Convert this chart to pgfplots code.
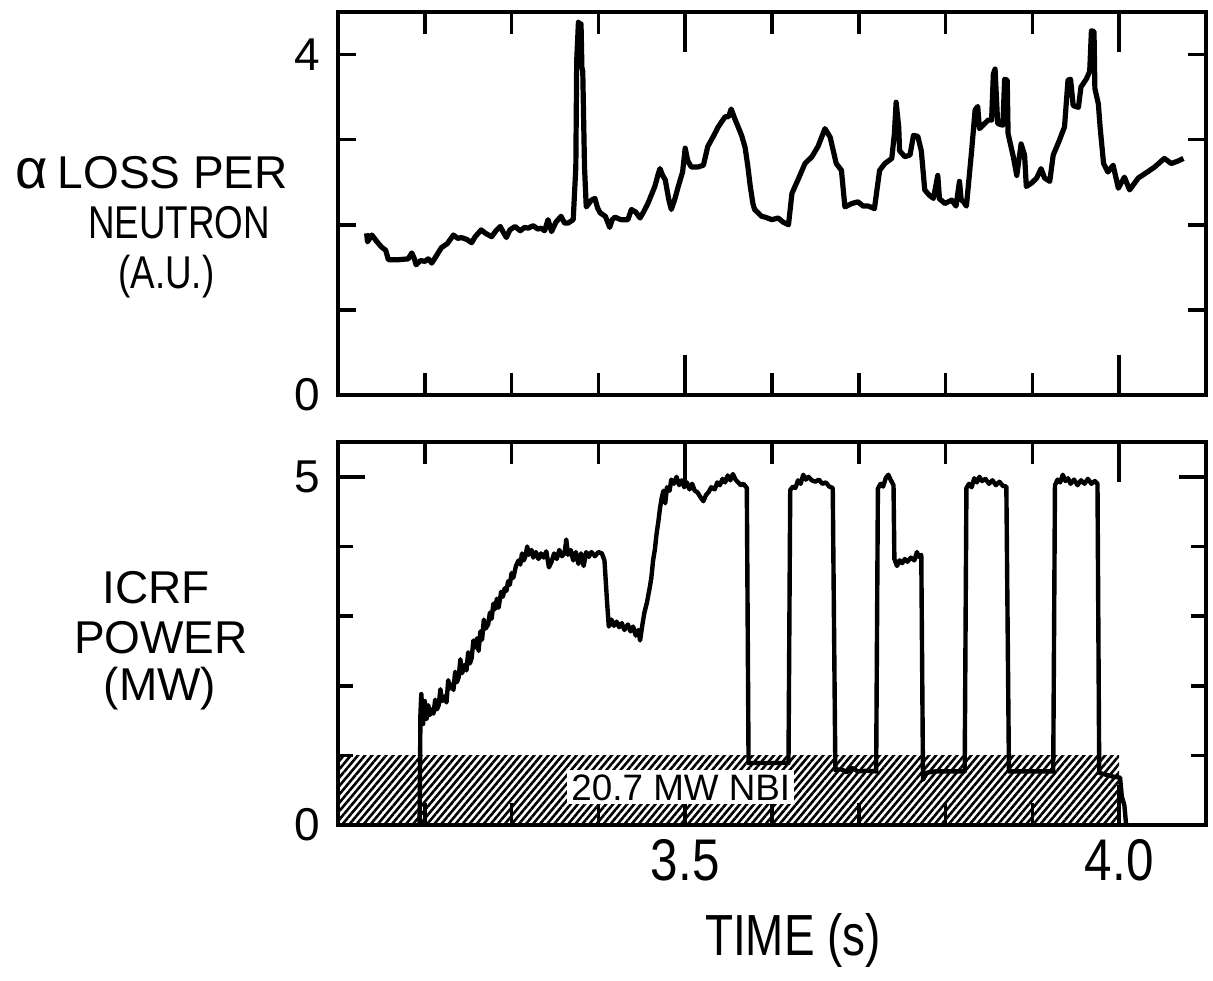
\documentclass[border=0pt]{standalone}
\usepackage{fontspec}
\setmainfont{Liberation Sans}
\newfontfamily\cond{Liberation Sans}[FakeStretch=0.80]
\newfontfamily\tlfont{Liberation Sans}[FakeStretch=0.84]
\newfontfamily\timefont{Liberation Sans}[FakeStretch=0.79]
\usepackage{pgfplots}
\pgfplotsset{compat=1.18}
\usetikzlibrary{calc,patterns.meta}

\pgfplotsset{
  panel/.style={
    scale only axis, width=217pt, height=95.75pt,
    xmin=3.1, xmax=4.1, ymin=0,
    axis line style={line width=1.1pt},
    every tick/.append style={line width=0.9pt, black},
    tick align=inside,
    xtick={3.5,4.0},
    minor xtick={3.2,3.3,3.4,3.6,3.7,3.8,3.9},
    major tick length=10pt,
    minor tick length=5.5pt,
    yticklabel style={font=\fontsize{11.5}{13}\selectfont, xshift=-1pt},
    xticklabel style={font=\tlfont\fontsize{14.7}{16}\selectfont},
  },
}

\begin{document}
\begin{tikzpicture}
\begin{axis}[panel, name=top, at={(0,0)}, anchor=north west,
  ymax=4.5, xticklabels={{},{}},
  ytick=\empty, extra y ticks={0,1,2,3,4}, extra y tick labels={0,{},{},{},4},
  extra y tick style={major tick length=4.5pt}]
\addplot[black, line width=1.3pt, line join=round] coordinates {
(3.133,1.90) (3.134,1.80) (3.139,1.88) (3.145,1.80) (3.150,1.74) (3.155,1.70)
(3.158,1.59) (3.170,1.59) (3.181,1.60) (3.185,1.67) (3.188,1.60) (3.190,1.53)
(3.195,1.58) (3.200,1.57) (3.204,1.60) (3.208,1.55) (3.213,1.63) (3.219,1.73)
(3.226,1.78) (3.233,1.88) (3.238,1.84) (3.242,1.85) (3.248,1.83) (3.254,1.79)
(3.258,1.86) (3.265,1.94) (3.270,1.90) (3.277,1.86) (3.282,1.93) (3.287,1.98)
(3.290,1.92) (3.294,1.85) (3.298,1.94) (3.304,1.98) (3.310,1.93) (3.315,1.97)
(3.319,1.96) (3.325,1.99) (3.330,1.95) (3.334,1.96) (3.338,1.93) (3.342,2.06)
(3.346,1.92) (3.351,2.03) (3.357,2.10) (3.361,2.02) (3.365,2.02) (3.371,2.06)
(3.374,2.68) (3.375,3.93) (3.377,4.38) (3.379,4.25) (3.380,4.36) (3.381,3.85)
(3.382,3.80) (3.384,2.68) (3.386,2.21) (3.392,2.29) (3.396,2.31) (3.399,2.20)
(3.402,2.14) (3.408,2.10) (3.413,1.97) (3.416,2.06) (3.419,2.09) (3.426,2.06)
(3.434,2.06) (3.438,2.18) (3.443,2.15) (3.448,2.08) (3.452,2.15) (3.457,2.25)
(3.465,2.45) (3.469,2.60) (3.471,2.66) (3.474,2.58) (3.477,2.53) (3.481,2.30)
(3.484,2.18) (3.488,2.30) (3.492,2.45) (3.497,2.62) (3.500,2.90) (3.503,2.75)
(3.507,2.68) (3.515,2.68) (3.521,2.70) (3.526,2.92) (3.533,3.05) (3.538,3.15)
(3.546,3.27) (3.550,3.27) (3.553,3.36) (3.557,3.25) (3.561,3.15) (3.565,3.05)
(3.569,2.91) (3.572,2.70) (3.575,2.45) (3.578,2.25) (3.580,2.18) (3.588,2.10)
(3.592,2.09) (3.600,2.06) (3.607,2.08) (3.613,2.03) (3.619,2.00) (3.623,2.37)
(3.630,2.53) (3.638,2.72) (3.646,2.80) (3.653,2.92) (3.661,3.13) (3.667,3.03)
(3.674,2.72) (3.680,2.64) (3.684,2.21) (3.692,2.25) (3.699,2.27) (3.705,2.22)
(3.711,2.22) (3.718,2.19) (3.724,2.64) (3.730,2.72) (3.738,2.78) (3.741,3.07)
(3.743,3.44) (3.746,3.15) (3.747,2.87) (3.753,2.80) (3.759,2.82) (3.763,3.05)
(3.768,3.04) (3.772,2.87) (3.776,2.41) (3.781,2.35) (3.786,2.31) (3.791,2.58)
(3.793,2.30) (3.795,2.29) (3.799,2.25) (3.807,2.29) (3.812,2.22) (3.816,2.51)
(3.818,2.29) (3.820,2.28) (3.824,2.22) (3.830,2.87) (3.834,3.35) (3.837,3.39)
(3.839,3.13) (3.849,3.23) (3.853,3.23) (3.855,3.77) (3.857,3.83) (3.860,3.19)
(3.866,3.17) (3.868,3.71) (3.871,3.70) (3.872,3.07) (3.878,2.80) (3.882,2.58)
(3.887,2.95) (3.891,2.82) (3.893,2.45) (3.899,2.49) (3.905,2.55) (3.910,2.66)
(3.914,2.55) (3.920,2.51) (3.924,2.82) (3.931,2.99) (3.937,3.15) (3.941,3.70)
(3.944,3.71) (3.947,3.40) (3.953,3.38) (3.956,3.62) (3.962,3.71) (3.966,3.80)
(3.968,4.28) (3.971,4.27) (3.972,3.60) (3.976,3.42) (3.978,3.15) (3.982,2.72)
(3.987,2.62) (3.993,2.70) (3.999,2.43) (4.006,2.56) (4.012,2.41) (4.022,2.55)
(4.031,2.61) (4.041,2.68) (4.052,2.78) (4.060,2.72) (4.068,2.75) (4.074,2.78)
};
\end{axis}

% bottom panel: short y ticks at 1..4
\begin{axis}[panel, at={(0,-107.5pt)}, anchor=north west,
  ymax=5.5, xtick=\empty, minor xtick={}, ytick={1,2,3,4}, yticklabels={{},{},{},{}},
  major tick length=3.75pt]
\end{axis}

\begin{axis}[panel, name=bot, at={(0,-107.5pt)}, anchor=north west,
  ymax=5.5, xticklabels={3.5,4.0},
  ytick=\empty, extra y ticks={0,5}, extra y tick labels={0,5},
  extra y tick style={major tick length=6.75pt}]
% NBI band
\addplot[draw=none, pattern={Lines[angle=50,distance=1.35pt,line width=0.65pt]}]
  coordinates {(3.1,1) (4.0,1)} \closedcycle;
\node[fill=white, inner sep=1pt, font=\fontsize{9.2}{10}\selectfont]
  at (axis cs:3.495,0.54) {20.7 MW NBI};
\addplot[black, line width=1.1pt, line join=round] coordinates {
(3.194,0) (3.195,1.60) (3.196,1.88) (3.198,1.45) (3.200,1.78) (3.202,1.52)
(3.204,1.72) (3.206,1.58) (3.208,1.66) (3.210,1.60) (3.212,1.80) (3.214,1.66)
(3.216,1.72) (3.218,1.95) (3.220,1.78) (3.223,1.85) (3.225,1.76) (3.227,2.08)
(3.229,1.96) (3.231,2.02) (3.233,1.94) (3.235,2.20) (3.237,2.05) (3.239,2.12)
(3.241,2.38) (3.243,2.18) (3.246,2.30) (3.248,2.22) (3.250,2.48) (3.252,2.32)
(3.254,2.40) (3.256,2.65) (3.258,2.55) (3.260,2.68) (3.262,2.50) (3.264,2.78)
(3.266,2.66) (3.268,2.95) (3.270,2.82) (3.273,2.88) (3.275,3.05) (3.277,2.96)
(3.279,3.18) (3.281,3.10) (3.283,3.25) (3.285,3.12) (3.288,3.35) (3.290,3.28)
(3.292,3.40) (3.294,3.36) (3.296,3.50) (3.298,3.45) (3.300,3.62) (3.302,3.55)
(3.305,3.72) (3.308,3.80) (3.310,3.74) (3.312,3.90) (3.314,3.80) (3.316,3.86)
(3.318,4.00) (3.320,3.88) (3.323,3.95) (3.325,3.84) (3.328,3.92) (3.331,3.82)
(3.334,3.90) (3.337,3.84) (3.340,3.93) (3.343,3.70) (3.346,3.78) (3.349,3.90)
(3.352,3.82) (3.355,3.95) (3.358,3.86) (3.361,3.90) (3.363,4.10) (3.365,3.88)
(3.368,3.95) (3.371,3.80) (3.374,3.92) (3.377,3.75) (3.380,3.90) (3.383,3.72)
(3.386,3.92) (3.389,3.85) (3.392,3.92) (3.396,3.86) (3.400,3.92) (3.404,3.90)
(3.407,3.80) (3.410,3.20) (3.412,2.85) (3.415,2.95) (3.418,2.86) (3.421,2.92)
(3.424,2.84) (3.427,2.90) (3.430,2.80) (3.434,2.88) (3.437,2.78) (3.440,2.85)
(3.443,2.72) (3.446,2.80) (3.448,2.65) (3.451,2.90) (3.453,3.05) (3.456,3.20)
(3.459,3.40) (3.461,3.55) (3.463,3.80) (3.465,3.95) (3.467,4.18) (3.469,4.35)
(3.471,4.55) (3.473,4.70) (3.475,4.80) (3.477,4.62) (3.479,4.85) (3.482,4.80)
(3.484,4.96) (3.487,4.90) (3.490,5.00) (3.493,4.88) (3.496,4.95) (3.499,4.85)
(3.502,4.92) (3.505,4.82) (3.508,4.90) (3.511,4.80) (3.514,4.78) (3.518,4.70)
(3.521,4.65) (3.524,4.74) (3.527,4.78) (3.530,4.85) (3.534,4.82) (3.537,4.92)
(3.540,4.88) (3.543,4.97) (3.546,4.92) (3.549,5.02) (3.552,4.95) (3.555,5.04)
(3.558,4.96) (3.561,4.92) (3.564,4.88) (3.567,4.90) (3.571,4.84) (3.573,0.89)
(3.619,0.89) (3.621,4.81) (3.624,4.86) (3.627,4.84) (3.630,4.95) (3.633,4.90)
(3.636,5.03) (3.639,4.96) (3.642,5.00) (3.646,4.95) (3.650,4.93) (3.654,4.96)
(3.658,4.90) (3.662,4.92) (3.666,4.86) (3.670,4.84) (3.673,0.79) (3.680,0.80)
(3.686,0.76) (3.692,0.82) (3.699,0.77) (3.710,0.78) (3.720,0.77) (3.722,4.83)
(3.725,4.90) (3.728,4.86) (3.731,4.98) (3.734,5.03) (3.737,4.95) (3.740,4.88)
(3.741,3.82) (3.744,3.72) (3.747,3.80) (3.750,3.76) (3.753,3.82) (3.756,3.78)
(3.760,3.84) (3.764,3.80) (3.767,3.92) (3.769,3.85) (3.772,3.88) (3.774,0.65)
(3.778,0.75) (3.788,0.77) (3.822,0.77) (3.824,4.84) (3.827,4.90) (3.830,4.85)
(3.833,4.98) (3.836,4.92) (3.839,5.00) (3.842,4.94) (3.846,4.97) (3.850,4.90)
(3.854,4.95) (3.858,4.88) (3.862,4.93) (3.866,4.87) (3.870,4.86) (3.873,0.77)
(3.924,0.77) (3.926,4.88) (3.929,4.96) (3.932,4.92) (3.935,5.03) (3.938,4.94)
(3.941,4.98) (3.944,4.90) (3.948,4.96) (3.952,4.88) (3.956,4.95) (3.960,4.90)
(3.964,4.97) (3.968,4.90) (3.972,4.94) (3.975,4.90) (3.977,0.75) (3.991,0.70)
(4.001,0.68) (4.003,0.41) (4.006,0.28) (4.008,0)
};
\end{axis}

% axis titles, one node per line
\begin{scope}[shift={(top.north west)}, font=\fontsize{11.5}{13}\selectfont]
\node[anchor=base] at (-46.6pt,-44pt) {{\fontsize{14}{14}\selectfont α}\hspace{2.5pt}LOSS PER};
\node[anchor=base] at (-39.75pt,-56.5pt) {\cond NEUTRON};
\node[anchor=base] at (-42.9pt,-69pt) {\cond (A.U.)};
\node[anchor=base] at (-45.5pt,-147.75pt) {ICRF};
\node[anchor=base] at (-44.25pt,-160.25pt) {POWER};
\node[anchor=base] at (-44.5pt,-172pt) {(MW)};
\end{scope}
\node[anchor=base, font=\timefont\fontsize{14.5}{16}\selectfont]
  at ($(bot.south west)+(113.75pt,-32.5pt)$) {TIME (s)};
\path ($(top.north west)+(-84.5pt,3pt)$) rectangle ($(bot.south east)+(1.75pt,-37pt)$);
\end{tikzpicture}
\end{document}
